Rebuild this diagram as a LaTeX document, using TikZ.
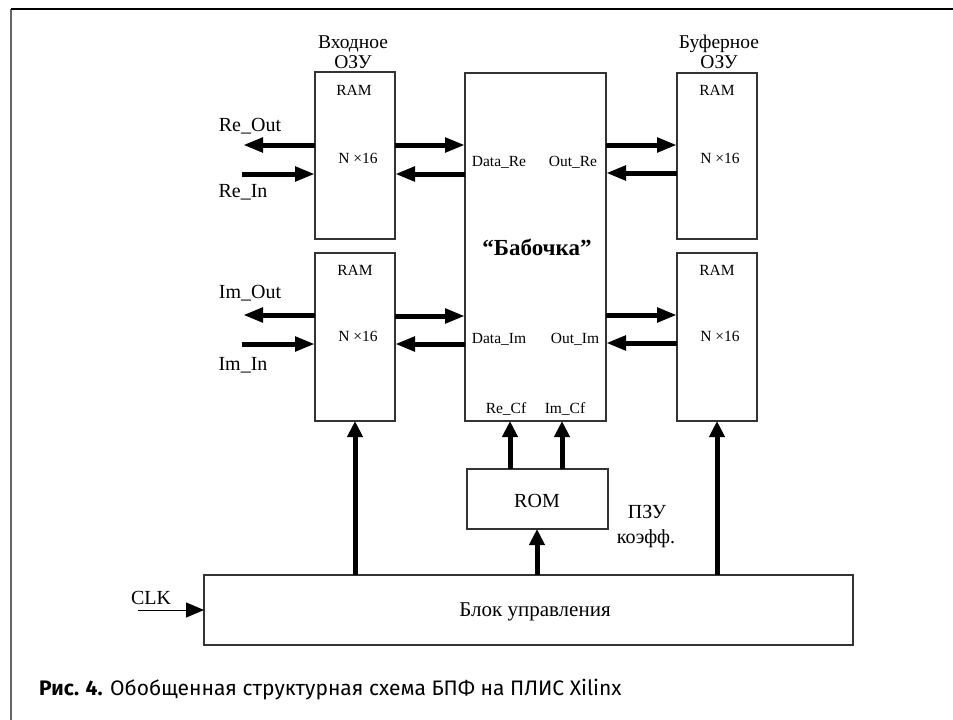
\documentclass[tikz,border=0pt]{standalone}
\usepackage{fontspec}
\setmainfont{Liberation Serif}
\newfontfamily\capfont{Fira Sans}
\usetikzlibrary{arrows.meta}
\begin{document}
\begin{tikzpicture}[x=1pt,y=-1pt,
  box/.style={draw=black!80, line width=1.2pt, inner sep=0pt, outer sep=0pt},
  lbl/.style={anchor=base, inner sep=0pt, font=\fontsize{20}{22}\selectfont},
  hdr/.style={anchor=base, inner sep=0pt, font=\fontsize{19.5}{20}\selectfont},
  sml/.style={anchor=base, inner sep=0pt, font=\fontsize{15.5}{17}\selectfont},
  harrow/.style={line width=5pt, -{Triangle[length=20pt,width=14pt]}},
  varrow/.style={line width=5pt, -{Triangle[length=16pt,width=15pt]}},
  thinarrow/.style={line width=1pt, -{Triangle[length=18pt,width=15pt]}}]
\useasboundingbox (0,0) rectangle (953,720);
% frame
\draw[black!60, line width=2pt] (11,9) -- (11,720);
\draw[black, line width=1.5pt] (11,9) -- (953,9);
% boxes
\node[box, minimum width=80pt, minimum height=167pt] (inRe) at (355,155.5) {};
\node[box, minimum width=80pt, minimum height=168pt] (inIm) at (355,337) {};
\node[box, minimum width=141pt, minimum height=348pt] (bfly) at (535.5,247) {};
\node[box, minimum width=80pt, minimum height=166pt] (bufRe) at (717,156) {};
\node[box, minimum width=80pt, minimum height=168pt] (bufIm) at (717,337) {};
\node[box, minimum width=141pt, minimum height=60pt] (rom) at (537.5,499) {};
\node[box, minimum width=649pt, minimum height=70pt] (ctrl) at (528.5,610) {};
% headings
\node[hdr] (h1a) at (353,48) {Входное};
\node[hdr] (h1b) at (353,68) {ОЗУ};
\node[hdr] (h2a) at (719,48) {Буферное};
\node[hdr] (h2b) at (719,68) {ОЗУ};
% RAM texts
\node[sml] (r1) at (354,95) {RAM};
\node[sml] (n1) at (358,163) {N ×16};
\node[sml] (r2) at (355,275) {RAM};
\node[sml] (n2) at (358,341) {N ×16};
\node[sml] (r3) at (717,95) {RAM};
\node[sml] (n3) at (720,163) {N ×16};
\node[sml] (r4) at (717,275) {RAM};
\node[sml] (n4) at (720,341) {N ×16};
% butterfly texts
\node[sml] (dre) at (499,166) {Data\_Re};
\node[sml] (ore) at (573,166) {Out\_Re};
\node[sml] (dim) at (499,343) {Data\_Im};
\node[sml] (oim) at (575,343) {Out\_Im};
\node[anchor=base, inner sep=0pt, font=\fontsize{23}{25}\selectfont\bfseries] (bt) at (537,255) {“Бабочка”};
\node[sml] (rcf) at (506,413) {Re\_Cf};
\node[sml] (icf) at (565,413) {Im\_Cf};
% ROM & control texts
\node[lbl] (romt) at (537,507) {ROM};
\node[lbl] (pzu1) at (647,518) {ПЗУ};
\node[lbl] (pzu2) at (646,543) {коэфф.};
\node[anchor=base, inner sep=0pt, font=\fontsize{21}{23}\selectfont] (ctrlt) at (535,616) {Блок управления};
\node[lbl] (clk) at (151,604) {CLK};
% side labels
\node[lbl] (reout) at (250,131) {Re\_Out};
\node[lbl] (rein) at (243,197) {Re\_In};
\node[lbl] (imout) at (250,298) {Im\_Out};
\node[lbl] (imin) at (243,370) {Im\_In};
% free ends
\coordinate (reOutEnd) at (243,145);
\coordinate (reInStart) at (242,174);
\coordinate (imOutEnd) at (243,315);
\coordinate (imInStart) at (242,344);
\coordinate (clkStart) at (138,610);
% horizontal arrows
\draw[harrow] (inRe.west |- 0,145) -- (reOutEnd);
\draw[harrow] (reInStart) -- (inRe.west |- 0,174);
\draw[harrow] (inRe.east |- 0,145) -- (bfly.west |- 0,145);
\draw[harrow] (bfly.west |- 0,174) -- (inRe.east |- 0,174);
\draw[harrow] (bfly.east |- 0,145) -- (bufRe.west |- 0,145);
\draw[harrow] (bufRe.west |- 0,173) -- (bfly.east |- 0,173);
\draw[harrow] (inIm.west |- 0,315) -- (imOutEnd);
\draw[harrow] (imInStart) -- (inIm.west |- 0,344);
\draw[harrow] (inIm.east |- 0,316) -- (bfly.west |- 0,316);
\draw[harrow] (bfly.west |- 0,344) -- (inIm.east |- 0,344);
\draw[harrow] (bfly.east |- 0,315) -- (bufIm.west |- 0,315);
\draw[harrow] (bufIm.west |- 0,343) -- (bfly.east |- 0,343);
% vertical arrows
\draw[varrow] (ctrl.north -| 355,0) -- (inIm.south -| 355,0);
\draw[varrow] (ctrl.north -| 537,0) -- (rom.south -| 537,0);
\draw[varrow] (ctrl.north -| 717,0) -- (bufIm.south -| 717,0);
\draw[varrow] (rom.north -| 510,0) -- (bfly.south -| 510,0);
\draw[varrow] (rom.north -| 562,0) -- (bfly.south -| 562,0);
\draw[thinarrow] (clkStart) -- (ctrl.west |- clkStart);
% caption
\node[anchor=base west, inner sep=0pt, font=\capfont\fontsize{21}{24}\selectfont] (cap) at (39,695) {\textbf{Рис. 4.} Обобщенная структурная схема БПФ на ПЛИС Xilinx};
\end{tikzpicture}
\end{document}
